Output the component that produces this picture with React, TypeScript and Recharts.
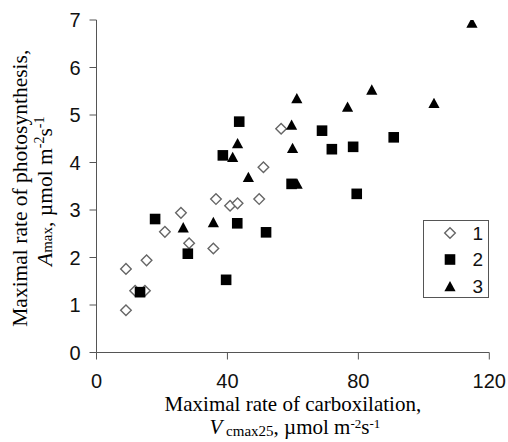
import React from 'react';
import { ScatterChart, Scatter, XAxis, YAxis, Legend } from 'recharts';

// Series 1 (open diamonds)
const series1X = [9.0, 9.0, 11.8, 14.8, 15.3, 20.9, 25.8, 28.3, 35.7, 36.5, 40.8, 43.1, 49.7, 51.0, 56.4];
const series1Y = [0.89, 1.76, 1.30, 1.30, 1.94, 2.54, 2.94, 2.30, 2.19, 3.23, 3.09, 3.14, 3.23, 3.90, 4.71];
// Series 2 (filled squares)
const series2X = [13.3, 17.9, 27.9, 38.6, 39.6, 43.0, 43.6, 51.8, 59.6, 68.9, 71.9, 78.4, 79.5, 90.8];
const series2Y = [1.27, 2.81, 2.08, 4.15, 1.53, 2.72, 4.86, 2.53, 3.55, 4.67, 4.28, 4.33, 3.34, 4.53];
// Series 3 (filled triangles)
const series3X = [26.5, 35.7, 41.6, 43.1, 46.4, 59.6, 59.9, 61.2, 61.3, 76.7, 84.1, 103.1, 114.7];
const series3Y = [2.63, 2.74, 4.11, 4.40, 3.69, 4.79, 4.30, 5.35, 3.55, 5.17, 5.53, 5.25, 6.94];

const seriesNames = ['1', '2', '3'];
const xTicks = [0, 40, 80, 120];
const yTicks = [0, 1, 2, 3, 4, 5, 6, 7];

const toPoints = (xs: number[], ys: number[]) => xs.map((x, i) => ({ x, y: ys[i] }));
const data1 = toPoints(series1X, series1Y);
const data2 = toPoints(series2X, series2Y);
const data3 = toPoints(series3X, series3Y);

const SERIF = '"Liberation Serif", "Times New Roman", serif';
const SANS = '"Liberation Sans", Arial, sans-serif';
const AXIS = '#555';

const Diamond = ({ cx, cy }: any) => {
  const h = 5.3;
  return (
    <path
      d={`M${cx},${cy - h}L${cx + h},${cy}L${cx},${cy + h}L${cx - h},${cy}Z`}
      fill="#fff"
      stroke="#666"
      strokeWidth={1.4}
    />
  );
};
const Square = ({ cx, cy }: any) => {
  const h = 5.3;
  return <rect x={cx - h} y={cy - h} width={2 * h} height={2 * h} fill="#000" />;
};
const Triangle = ({ cx, cy }: any) => (
  <path d={`M${cx},${cy - 5.5}L${cx + 5.6},${cy + 4.8}L${cx - 5.6},${cy + 4.8}Z`} fill="#000" />
);

const shapes = [Diamond, Square, Triangle];

const XTitle = (props: any) => {
  const vb = props.viewBox || {};
  const cx = vb.x + vb.width / 2;
  const y1 = vb.y + 58.5;
  const y2 = vb.y + 81.5;
  return (
    <text fontFamily={SERIF} fill="#000" textAnchor="middle" fontSize={21}>
      <tspan x={cx} y={y1}>Maximal rate of carboxilation,</tspan>
      <tspan x={cx + 2} y={y2}>
        <tspan fontStyle="italic">V</tspan>
        <tspan fontSize={15} dy={2}> cmax25</tspan>
        <tspan dy={-2}>, µmol m</tspan>
        <tspan fontSize={13} dy={-6.5}>-2</tspan>
        <tspan dy={6.5}>s</tspan>
        <tspan fontSize={13} dy={-6.5}>-1</tspan>
      </tspan>
    </text>
  );
};

const YTitle = (props: any) => {
  const vb = props.viewBox || {};
  const cy = vb.y + vb.height / 2 + 2;
  return (
    <g transform={`translate(27, ${cy}) rotate(-90)`}>
      <text fontFamily={SERIF} fill="#000" textAnchor="middle" fontSize={21.5}>
        <tspan x={0} y={0}>Maximal rate of photosynthesis,</tspan>
        <tspan x={-3} y={25}>
          <tspan fontStyle="italic">A</tspan>
          <tspan fontSize={15}>max</tspan>
          <tspan>, µmol m</tspan>
          <tspan fontSize={14} dy={-8}>-2</tspan>
          <tspan dy={8}>s</tspan>
          <tspan fontSize={14} dy={-8}>-1</tspan>
        </tspan>
      </text>
    </g>
  );
};

const LegendBox = () => {
  const rows = [12, 38.5, 65.5];
  return (
    <div
      style={{
        boxSizing: 'border-box',
        width: 66,
        height: 78,
        border: `1px solid ${AXIS}`,
        background: '#fff',
      }}
    >
      <svg width={64} height={76} style={{ display: 'block' }}>
        {seriesNames.map((name, i) => {
          const S = shapes[i];
          return (
            <g key={name}>
              <S cx={26} cy={rows[i]} />
              <text
                x={59}
                y={rows[i] + 6.8}
                textAnchor="end"
                fontFamily={SANS}
                fontSize={19}
                fill="#111"
              >
                {name}
              </text>
            </g>
          );
        })}
      </svg>
    </div>
  );
};

export default function App() {
  return (
    <div style={{ position: 'absolute', left: 0, top: 0, width: 508, height: 442, background: '#fff' }}>
      <ScatterChart width={508} height={442} margin={{ top: 20, right: 18.7, bottom: 0, left: 0 }}>
        <XAxis
          type="number"
          dataKey="x"
          domain={[0, 120]}
          ticks={xTicks}
          interval={0}
          height={89.5}
          stroke={AXIS}
          tickSize={7}
          tickMargin={14}
          tick={{ fill: '#111', fontSize: 20, fontFamily: SANS }}
          label={{ content: XTitle }}
          allowDataOverflow
        />
        <YAxis
          type="number"
          dataKey="y"
          domain={[0, 7]}
          ticks={yTicks}
          interval={0}
          width={96.5}
          stroke={AXIS}
          tickSize={7}
          tickMargin={9}
          tick={{ fill: '#111', fontSize: 20, fontFamily: SANS }}
          label={{ content: YTitle }}
          allowDataOverflow
        />
        <Legend
          layout="vertical"
          align="center"
          verticalAlign="middle"
          content={LegendBox}
          wrapperStyle={{ left: 423, top: 220, width: 66, height: 78, margin: 0 }}
        />
        <Scatter name={seriesNames[0]} data={data1} shape={Diamond} isAnimationActive={false} />
        <Scatter name={seriesNames[1]} data={data2} shape={Square} isAnimationActive={false} />
        <Scatter name={seriesNames[2]} data={data3} shape={Triangle} isAnimationActive={false} />
      </ScatterChart>
    </div>
  );
}
